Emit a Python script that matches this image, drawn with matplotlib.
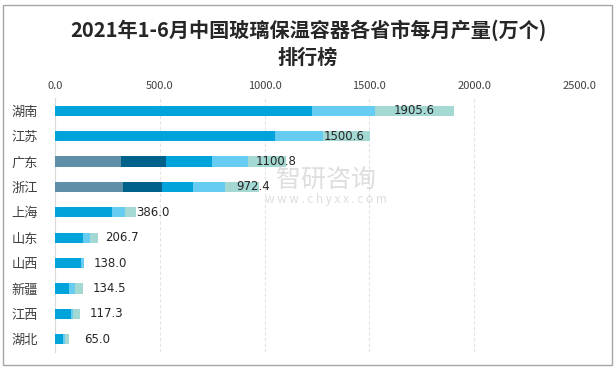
import matplotlib.pyplot as plt
import numpy as np
from matplotlib.patches import Rectangle

plt.rcParams['font.family'] = ['Noto Sans CJK SC', 'DejaVu Sans']

provinces = ["湖南", "江苏", "广东", "浙江", "上海", "山东", "山西", "新疆", "江西", "湖北"]
totals = [1905.6, 1500.6, 1100.8, 972.4, 386.0, 206.7, 138.0, 134.5, 117.3, 65.0]
# stacked segments
seg1 = [0, 0, 316, 325, 0, 0, 0, 0, 0, 0]
seg2 = [0, 0, 215, 187, 0, 0, 0, 0, 0, 0]
seg3 = [1228, 1048, 220, 148, 273, 134, 126, 67, 77, 38]
seg4 = [298, 230, 168, 152, 62, 33, 12, 29, 9, 10]
seg5 = [380, 223, 182, 160, 51, 40, 0, 38, 31, 17]
segments = [seg1, seg2, seg3, seg4, seg5]
colors = ["#5F8FA6", "#00628B", "#00A3DA", "#66CCF2", "#A3D8D3"]
xticks = [0, 500, 1000, 1500, 2000, 2500]

fig = plt.figure(figsize=(6.16, 3.69), dpi=100)
ax = fig.add_axes([55 / 616, 1 - 352 / 369, (579 - 55) / 616, (352 - 98) / 369])

y = np.arange(len(provinces))
left = np.zeros(len(provinces))
for s, c in zip(segments, colors):
    ax.barh(y, s, left=left, height=0.4, color=c, zorder=3)
    left += np.array(s)

for i, t in enumerate(totals):
    ax.text(0.82 * t + 150, i, f"{t:.1f}", ha="center", va="center",
            fontsize=8.5, color="#262626", family=["DejaVu Sans"], zorder=5)

ax.set_xlim(0, 2500)
ax.set_ylim(len(provinces) - 0.5, -0.5)
ax.set_xticks(xticks)
ax.set_xticklabels([f"{v:.1f}" for v in xticks], fontsize=8, color="#404040")
ax.xaxis.tick_top()
ax.set_yticks(y)
ax.set_yticklabels(provinces, fontsize=9.5, color="#404040")
ax.tick_params(length=0, pad=5)
ax.tick_params(axis="y", pad=12)
ax.grid(axis="x", color="#E3E3E3", linestyle=(0, (3, 2)), linewidth=0.8, zorder=0)
for side in ["top", "right", "bottom"]:
    ax.spines[side].set_visible(False)
ax.spines["left"].set_color("#D9D9D9")

fig.text(0.5, 1 - 30 / 369, "2021年1-6月中国玻璃保温容器各省市每月产量(万个)",
         ha="center", va="center", fontsize=14.5, fontweight="bold", color="#262626")
fig.text(0.5, 1 - 57 / 369, "排行榜", ha="center", va="center",
         fontsize=14.5, fontweight="bold", color="#262626")

# watermark
fig.text(326 / 616, 1 - 180 / 369, "智研咨询", ha="center", va="center",
         fontsize=18, color="#C8C8C8", alpha=0.6, zorder=4)
fig.text(326 / 616, 1 - 200 / 369, "w w w . c h y x x . c o m", ha="center", va="center",
         fontsize=8.5, color="#C8C8C8", alpha=0.6, zorder=4)

fig.patches.append(Rectangle((3 / 616, 4 / 369), 609 / 616, 360 / 369,
                             transform=fig.transFigure, fill=False,
                             edgecolor="#A6A6A6", linewidth=1))

fig.savefig("out.png", dpi=100)
